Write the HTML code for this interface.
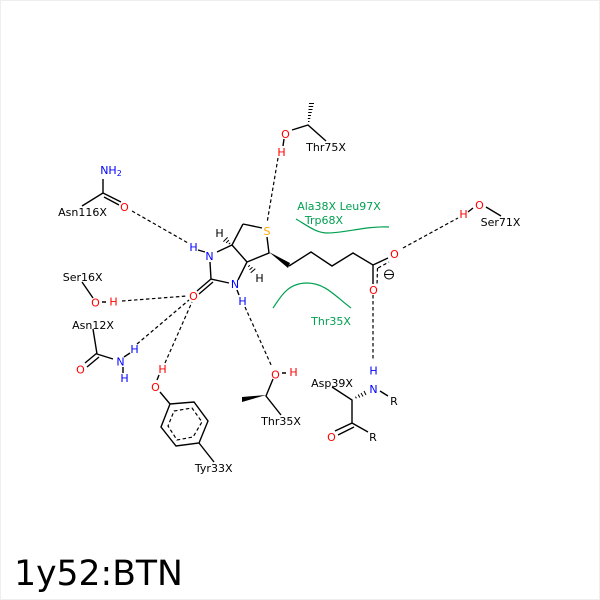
<!DOCTYPE html>
<html><head><meta charset="utf-8"><style>
html,body{margin:0;padding:0;background:#fff}
svg{display:block}
text{font-family:"DejaVu Sans",sans-serif;font-size:11px;text-anchor:middle}
.k{fill:#000}.b{fill:#0000ff}.r{fill:#ff0000}.g{fill:#00a050}
.l{stroke:#000;stroke-width:1.4;fill:none}
.h{stroke:#000;stroke-width:1;fill:none}
.d{stroke:#000;stroke-width:1.2;stroke-dasharray:3.5 2.5;fill:none}
.c{stroke:#00a050;stroke-width:1.2;fill:none}
</style></head><body>
<svg width="600" height="600" viewBox="0 0 600 600" xmlns="http://www.w3.org/2000/svg">
<rect x="0.5" y="0.5" width="599" height="599" fill="#fff" stroke="#eeeeee"/>
<!-- H-bonds -->
<path class="d" d="M132 211L188 243M122 301L187 296M137 344L189 300M165 363L192 302M245 307L272 367M278 158L267 223M403 248L458 218M373 295V360"/>
<!-- biotin core -->
<path class="l" d="M217 252L232 245L247 262L238 280M243 224L232 245M243 224L262 228M267 237L269 253L247 262M229 283L211 279L210 262M211 279L197 291M213 282L199 294M198 250L205 252M237 290L239 295"/>
<path d="M269 252L290 263L288 268Z" fill="#000"/>
<path class="l" d="M289 266L311 252L332 266L353 253L373 265L388 258M373 265V284"/>
<path class="h" d="M228.800 244.200L230.200 242.800M226.100 242.900L228.900 240.100M223.400 241.600L227.600 237.400"/>
<path class="h" d="M248.200 266.700L249.800 265.300M249.500 269.800L252.500 267.200M250.700 272.800L255.300 268.800"/>
<path class="d" d="M378 268L389 262M377.500 268L377 285" stroke-dasharray="3 2"/>
<!-- Thr75 -->
<path class="l" d="M292 130L308 125L326 141"/>
<path class="h" d="M308 121.500h1.500M307.800 118.500h2.500M308 115.500h3M308.200 112.500h3.500M308.500 109.500h4M308.700 106.500h4.500M309 103.500h5"/>
<path class="l" d="M284 139L283 146"/>
<!-- Asn116 -->
<path class="l" d="M103 179V193L82 206M103 193L121 202M104 197L119 205"/>
<!-- Ser16 -->
<path class="l" d="M82 282L93 298M102 302H106"/>
<!-- Asn12 -->
<path class="l" d="M93 329L97 354L113 359M97 353L85 363M99 357L87 367M124 357L130 353M123 367L123 373"/>
<!-- Tyr33 -->
<path class="l" d="M160 392L170 404L194 402L208 421L199 443L176 446L161 427L170 404M199 443L214 462M157 380L159 375"/>
<path class="d" d="M174 411L192 408L202 422L193 437L177 440L168 426Z" stroke-dasharray="4 2.5"/>
<!-- Thr35 -->
<path class="l" d="M273 379L266 396L281 415M282 373H286"/>
<path d="M266 395L242 397V402Z" fill="#000"/>
<!-- Asp39 -->
<path class="l" d="M332 387L352 400V423L335 431M354 427L338 435M352 423L368 432M380 391L388 396"/>
<path class="h" d="M355.500 396.600L356.400 398.400M358.200 394.500L359.800 397.500M361 393L363 396.500M364 391L366 395"/>
<!-- Ser71 -->
<path class="l" d="M486 207L501 216M468 212L473 208"/>
<!-- minus -->
<circle cx="389" cy="274.500" r="4.500" fill="none" stroke="#000" stroke-width="1"/>
<path d="M385 274.500H393" stroke="#000" stroke-width="1"/>
<!-- hydrophobic -->
<path class="c" d="M296 219C308 226 316 233 328 233C345 233 365 226 389 227"/>
<path class="c" d="M273 308C280 298 287 283 307 283C325 283 335 296 351 308"/>
<!-- labels -->
<g>
<text x="267" y="235" fill="#ffa500">S</text>
<text x="209.500" y="260" class="b">N</text>
<text x="235" y="288" class="b">N</text>
<text x="193.500" y="300" class="r">O</text>
<text x="219.500" y="237" class="k">H</text>
<text x="259.500" y="282" class="k">H</text>
<text x="193.500" y="251" class="b">H</text>
<text x="242.500" y="305" class="b">H</text>
<text x="394.500" y="258" class="r">O</text>
<text x="373.500" y="294" class="r">O</text>
<text x="479.500" y="209" class="r">O</text>
<text x="463.500" y="218" class="r">H</text>
<text x="500.500" y="226" class="k">Ser71X</text>
<text x="285.500" y="138" class="r">O</text>
<text x="281.500" y="156" class="r">H</text>
<text x="326" y="151" class="k">Thr75X</text>
<text x="339" y="210" class="g">Ala38X Leu97X</text>
<text x="324" y="224" class="g">Trp68X</text>
<text x="331" y="325" class="g">Thr35X</text>
<text x="111" y="174" class="b">NH<tspan font-size="8" dy="2">2</tspan></text>
<text x="124.500" y="211" class="r">O</text>
<text x="82.500" y="216" class="k">Asn116X</text>
<text x="82.700" y="281" class="k">Ser16X</text>
<text x="95.500" y="306.500" class="r">O</text>
<text x="113.500" y="305.500" class="r">H</text>
<text x="93" y="329" class="k">Asn12X</text>
<text x="80.500" y="373.500" class="r">O</text>
<text x="120.500" y="365.500" class="b">N</text>
<text x="134.500" y="353" class="b">H</text>
<text x="124.500" y="382" class="b">H</text>
<text x="162.500" y="373" class="r">H</text>
<text x="155.500" y="391" class="r">O</text>
<text x="213.700" y="472" class="k">Tyr33X</text>
<text x="275.500" y="378.500" class="r">O</text>
<text x="293.500" y="376" class="r">H</text>
<text x="281" y="425" class="k">Thr35X</text>
<text x="332" y="387" class="k">Asp39X</text>
<text x="373.500" y="374.500" class="b">H</text>
<text x="373.500" y="393" class="b">N</text>
<text x="394" y="405" class="k">R</text>
<text x="331.500" y="441" class="r">O</text>
<text x="373" y="441" class="k">R</text>
<text x="98.500" y="585" style="font-size:34.600px" class="k">1y52:BTN</text>
</g>
</svg>
</body></html>
